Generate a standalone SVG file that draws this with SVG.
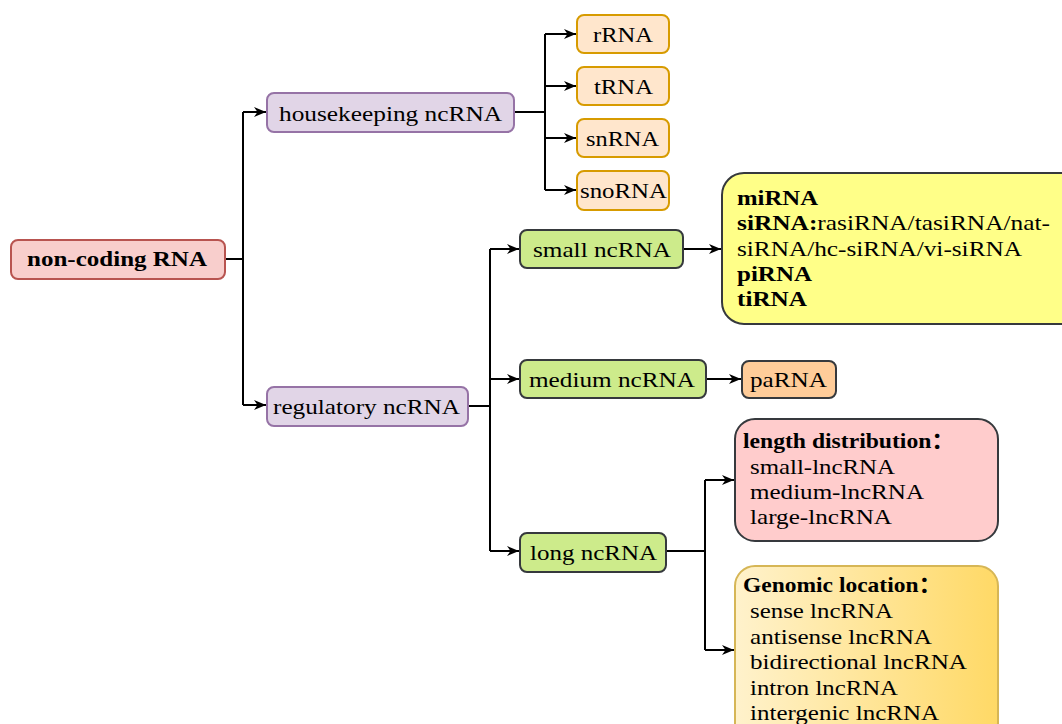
<svg xmlns="http://www.w3.org/2000/svg" width="1062" height="724" viewBox="0 0 1062 724">
<defs>
<marker id="arr" viewBox="0 0 12 10" refX="12" refY="5" markerWidth="12" markerHeight="10" markerUnits="userSpaceOnUse" orient="auto">
<path d="M0,0 L12,5 L0,10 L3.5,5 Z" fill="#000"/>
</marker>
<linearGradient id="gold" x1="0" y1="0" x2="1" y2="0">
<stop offset="0" stop-color="#fff2cc"/>
<stop offset="1" stop-color="#ffd966"/>
</linearGradient>
<style>
text{font-family:"Liberation Serif","Times New Roman","Noto Sans CJK SC",serif;font-size:22px;fill:#000}
.b{font-weight:bold}
.conn path{fill:none;stroke:#000;stroke-width:2}
.pink{fill:#f8cecc;stroke:#b85450;stroke-width:2}
.purple{fill:#e1d5e7;stroke:#9673a6;stroke-width:2}
.orange{fill:#ffe6cc;stroke:#d79b00;stroke-width:2}
.green{fill:#cdeb8b;stroke:#36393d;stroke-width:2}
</style>
</defs>
<rect width="1062" height="724" fill="#fff"/>
<g class="conn" id="connectors">
<path d="M225,259 H243 M243,112 V405"/>
<path d="M243,112 H266" marker-end="url(#arr)"/>
<path d="M243,405 H266" marker-end="url(#arr)"/>
<path d="M514,112 H545 M545,34 V190"/>
<path d="M545,34 H576" marker-end="url(#arr)"/>
<path d="M545,86 H576" marker-end="url(#arr)"/>
<path d="M545,138 H576" marker-end="url(#arr)"/>
<path d="M545,190 H576" marker-end="url(#arr)"/>
<path d="M468,406 H490 M490,249 V551"/>
<path d="M490,249 H519" marker-end="url(#arr)"/>
<path d="M490,379 H519" marker-end="url(#arr)"/>
<path d="M490,551 H519" marker-end="url(#arr)"/>
<path d="M683,249 H721" marker-end="url(#arr)"/>
<path d="M706,379 H741" marker-end="url(#arr)"/>
<path d="M666,551 H705 M705,480 V650"/>
<path d="M705,480 H734" marker-end="url(#arr)"/>
<path d="M705,650 H734" marker-end="url(#arr)"/>
</g>
<g id="noncoding">
<rect class="pink" x="11" y="240" width="214" height="39" rx="7"/>
<text class="b" x="27" y="266" textLength="180" lengthAdjust="spacingAndGlyphs">non-coding RNA</text>
</g>
<g id="housekeeping">
<rect class="purple" x="267" y="93" width="247" height="39" rx="7"/>
<text x="279" y="121" textLength="223" lengthAdjust="spacingAndGlyphs">housekeeping ncRNA</text>
</g>
<g id="regulatory">
<rect class="purple" x="267" y="387" width="201" height="39" rx="7"/>
<text x="273" y="414" textLength="187" lengthAdjust="spacingAndGlyphs">regulatory ncRNA</text>
</g>
<g id="rRNA">
<rect class="orange" x="577" y="15" width="92" height="38" rx="7"/>
<text x="593" y="42" textLength="60" lengthAdjust="spacingAndGlyphs">rRNA</text>
</g>
<g id="tRNA">
<rect class="orange" x="577" y="67" width="92" height="38" rx="7"/>
<text x="594" y="94" textLength="59" lengthAdjust="spacingAndGlyphs">tRNA</text>
</g>
<g id="snRNA">
<rect class="orange" x="577" y="119" width="92" height="38" rx="7"/>
<text x="586" y="146" textLength="73" lengthAdjust="spacingAndGlyphs">snRNA</text>
</g>
<g id="snoRNA">
<rect class="orange" x="577" y="171" width="92" height="39" rx="7"/>
<text x="580" y="198" textLength="87" lengthAdjust="spacingAndGlyphs">snoRNA</text>
</g>
<g id="small">
<rect class="green" x="520" y="230" width="163" height="38" rx="7"/>
<text x="533" y="257" textLength="138" lengthAdjust="spacingAndGlyphs">small ncRNA</text>
</g>
<g id="medium">
<rect class="green" x="520" y="360" width="186" height="38" rx="7"/>
<text x="529" y="387" textLength="166" lengthAdjust="spacingAndGlyphs">medium ncRNA</text>
</g>
<g id="long">
<rect class="green" x="520" y="533" width="146" height="39" rx="7"/>
<text x="530" y="560" textLength="127" lengthAdjust="spacingAndGlyphs">long ncRNA</text>
</g>
<g id="smallList">
<rect x="722" y="173" width="360" height="151" rx="22" fill="#ffff88" stroke="#36393d" stroke-width="2"/>
<text class="b" x="737" y="205" textLength="81" lengthAdjust="spacingAndGlyphs">miRNA</text>
<text x="737" y="230" textLength="313" lengthAdjust="spacingAndGlyphs"><tspan class="b">siRNA:</tspan>rasiRNA/tasiRNA/nat-</text>
<text x="737" y="256" textLength="285" lengthAdjust="spacingAndGlyphs">siRNA/hc-siRNA/vi-siRNA</text>
<text class="b" x="737" y="281" textLength="75" lengthAdjust="spacingAndGlyphs">piRNA</text>
<text class="b" x="737" y="306" textLength="70" lengthAdjust="spacingAndGlyphs">tiRNA</text>
</g>
<g id="paRNA">
<rect x="742" y="361" width="94" height="37" rx="7" fill="#ffcc99" stroke="#36393d" stroke-width="2"/>
<text x="750" y="387" textLength="77" lengthAdjust="spacingAndGlyphs">paRNA</text>
</g>
<g id="lengthDist">
<rect x="735" y="419" width="263" height="122" rx="20" fill="#ffcccc" stroke="#36393d" stroke-width="2"/>
<text class="b" x="743" y="448" textLength="212" lengthAdjust="spacingAndGlyphs">length distribution：</text>
<text x="750" y="474" textLength="145" lengthAdjust="spacingAndGlyphs">small-lncRNA</text>
<text x="750" y="499" textLength="174" lengthAdjust="spacingAndGlyphs">medium-lncRNA</text>
<text x="750" y="524" textLength="142" lengthAdjust="spacingAndGlyphs">large-lncRNA</text>
</g>
<g id="genomic">
<rect x="735" y="566" width="263" height="180" rx="20" fill="url(#gold)" stroke="#d6b656" stroke-width="2"/>
<text class="b" x="743" y="592" textLength="199" lengthAdjust="spacingAndGlyphs">Genomic location：</text>
<text x="750" y="618" textLength="143" lengthAdjust="spacingAndGlyphs">sense lncRNA</text>
<text x="750" y="644" textLength="182" lengthAdjust="spacingAndGlyphs">antisense lncRNA</text>
<text x="750" y="669" textLength="217" lengthAdjust="spacingAndGlyphs">bidirectional lncRNA</text>
<text x="750" y="695" textLength="148" lengthAdjust="spacingAndGlyphs">intron lncRNA</text>
<text x="750" y="720" textLength="189" lengthAdjust="spacingAndGlyphs">intergenic lncRNA</text>
</g>
</svg>
